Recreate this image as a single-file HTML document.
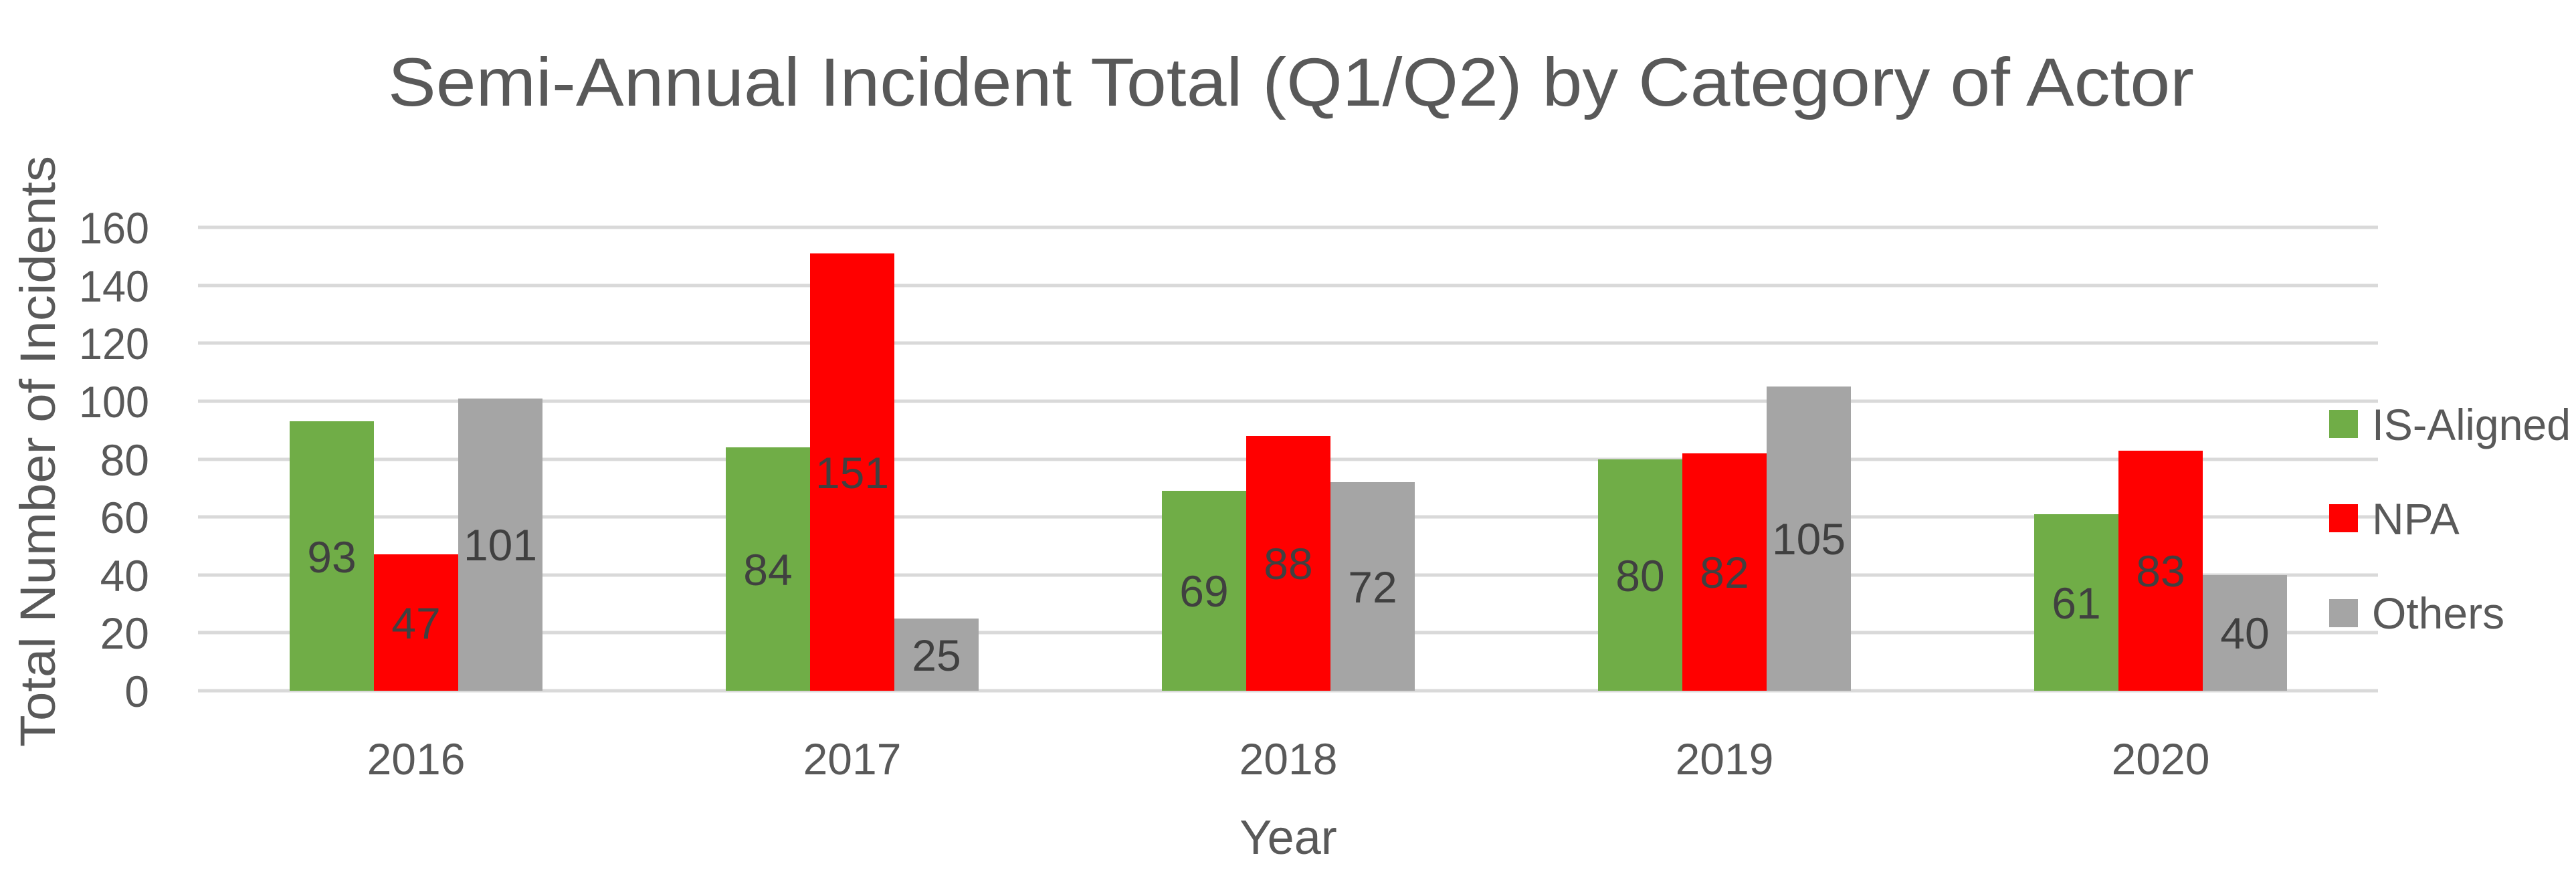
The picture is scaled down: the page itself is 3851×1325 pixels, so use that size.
<!DOCTYPE html>
<html><head><meta charset="utf-8"><style>html,body{margin:0;padding:0;background:#fff}svg{display:block}</style></head>
<body>
<svg width="3851" height="1325" viewBox="0 0 3851 1325" xmlns="http://www.w3.org/2000/svg" font-family="Liberation Sans, sans-serif" fill="#595959">
<rect width="3851" height="1325" fill="#fff"/>
<text x="1930" y="158" font-size="102" text-anchor="middle" textLength="2700" lengthAdjust="spacingAndGlyphs">Semi-Annual Incident Total (Q1/Q2)  by Category of Actor</text>
<g stroke="#d9d9d9" stroke-width="5">
<line x1="296" x2="3555" y1="340" y2="340"/>
<line x1="296" x2="3555" y1="427" y2="427"/>
<line x1="296" x2="3555" y1="513" y2="513"/>
<line x1="296" x2="3555" y1="600" y2="600"/>
<line x1="296" x2="3555" y1="687" y2="687"/>
<line x1="296" x2="3555" y1="773" y2="773"/>
<line x1="296" x2="3555" y1="860" y2="860"/>
<line x1="296" x2="3555" y1="946" y2="946"/>
<line x1="296" x2="3555" y1="1033" y2="1033"/>
</g>
<g font-size="66" text-anchor="end">
<text x="223" y="364" textLength="105" lengthAdjust="spacingAndGlyphs">160</text><text x="223" y="451" textLength="105" lengthAdjust="spacingAndGlyphs">140</text><text x="223" y="537" textLength="105" lengthAdjust="spacingAndGlyphs">120</text>
<text x="223" y="624" textLength="105" lengthAdjust="spacingAndGlyphs">100</text><text x="223" y="711">80</text><text x="223" y="797">60</text>
<text x="223" y="884">40</text><text x="223" y="970">20</text><text x="223" y="1057">0</text>
</g>
<text transform="translate(82,675) rotate(-90)" font-size="74" text-anchor="middle" textLength="884" lengthAdjust="spacingAndGlyphs">Total Number of Incidents</text>
<g>
<rect x="433" y="630" width="126" height="403" fill="#70ad47"/>
<rect x="559" y="829" width="126" height="204" fill="#ff0000"/>
<rect x="685" y="596" width="126" height="437" fill="#a5a5a5"/>
<rect x="1085" y="669" width="126" height="364" fill="#70ad47"/>
<rect x="1211" y="379" width="126" height="654" fill="#ff0000"/>
<rect x="1337" y="925" width="126" height="108" fill="#a5a5a5"/>
<rect x="1737" y="734" width="126" height="299" fill="#70ad47"/>
<rect x="1863" y="652" width="126" height="381" fill="#ff0000"/>
<rect x="1989" y="721" width="126" height="312" fill="#a5a5a5"/>
<rect x="2389" y="687" width="126" height="346" fill="#70ad47"/>
<rect x="2515" y="678" width="126" height="355" fill="#ff0000"/>
<rect x="2641" y="578" width="126" height="455" fill="#a5a5a5"/>
<rect x="3041" y="769" width="126" height="264" fill="#70ad47"/>
<rect x="3167" y="674" width="126" height="359" fill="#ff0000"/>
<rect x="3293" y="860" width="126" height="173" fill="#a5a5a5"/>
</g>
<g font-size="66" text-anchor="middle" fill="#404040">
<text x="496" y="856">93</text><text x="622" y="955">47</text><text x="748" y="838">101</text>
<text x="1148" y="875">84</text><text x="1274" y="730">151</text><text x="1400" y="1003">25</text>
<text x="1800" y="907">69</text><text x="1926" y="866">88</text><text x="2052" y="901">72</text>
<text x="2452" y="884">80</text><text x="2578" y="879">82</text><text x="2704" y="829">105</text>
<text x="3104" y="925">61</text><text x="3230" y="877">83</text><text x="3356" y="970">40</text>
</g>
<g font-size="66" text-anchor="middle">
<text x="622" y="1158">2016</text><text x="1274" y="1158">2017</text><text x="1926" y="1158">2018</text>
<text x="2578" y="1158">2019</text><text x="3230" y="1158">2020</text>
</g>
<text x="1926" y="1277" font-size="72" text-anchor="middle">Year</text>
<rect x="3482" y="613" width="43" height="42" fill="#70ad47"/>
<rect x="3482" y="754" width="43" height="42" fill="#ff0000"/>
<rect x="3482" y="896" width="43" height="42" fill="#a5a5a5"/>
<g font-size="66">
<text x="3546" y="658" textLength="297" lengthAdjust="spacingAndGlyphs">IS-Aligned</text>
<text x="3546" y="799">NPA</text>
<text x="3546" y="940">Others</text>
</g>
</svg>
</body></html>
